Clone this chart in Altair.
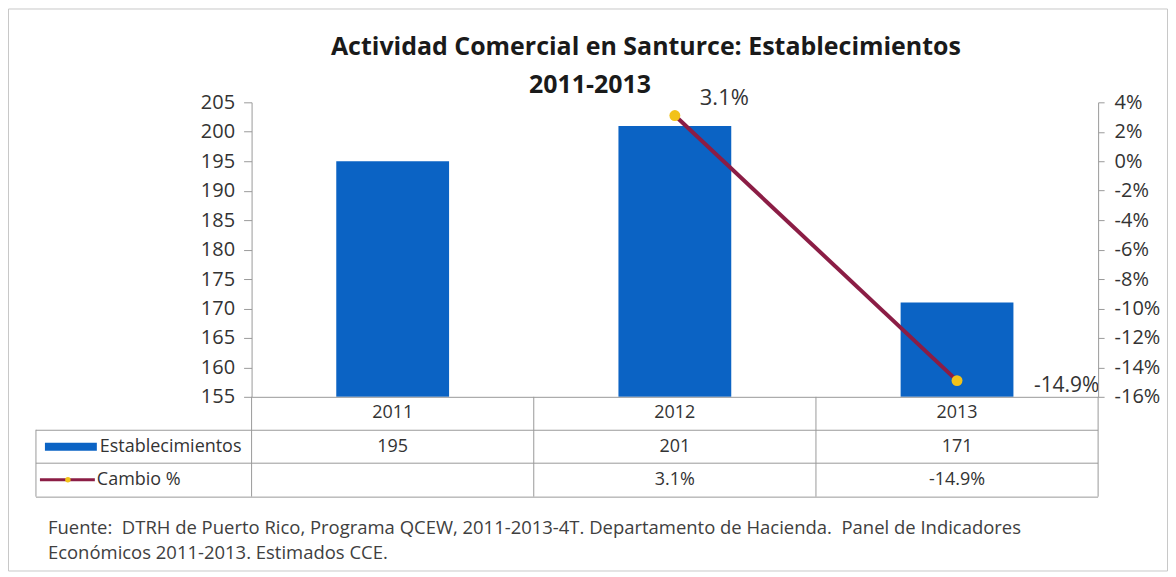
import altair as alt
import pandas as pd

# ---------------- data ----------------
years = ["2011", "2012", "2013"]
establecimientos = [195, 201, 171]
cambio = [None, 0.031, -0.149]
left_ticks = [155, 160, 165, 170, 175, 180, 185, 190, 195, 200, 205]
right_ticks = [-0.16, -0.14, -0.12, -0.10, -0.08, -0.06, -0.04, -0.02, 0.0, 0.02, 0.04]
title_lines = ["Actividad Comercial en Santurce: Establecimientos", "2011-2013"]
row_labels = ["Establecimientos", "Cambio %"]
fuente_lines = [
    "Fuente:\u00a0 DTRH de Puerto Rico, Programa QCEW, 2011-2013-4T. Departamento de Hacienda.\u00a0 Panel de Indicadores",
    "Económicos 2011-2013. Estimados CCE.",
]

df = pd.DataFrame({"year": years, "est": establecimientos, "chg": cambio})
df["est_txt"] = [str(v) for v in establecimientos]
df["chg_txt"] = ["" if v is None else f"{v * 100:.1f}%" for v in cambio]
one = pd.DataFrame({"k": [0]})

FONT = "Open Sans"
BLUE = "#0B63C4"
RED = "#8B1D45"
GOLD = "#F2C219"
GRID = "#9A9A9A"
TXT = "#333333"

W, H = 848, 295

x = alt.X(
    "year:N",
    title=None,
    scale=alt.Scale(paddingInner=0, paddingOuter=0),
    axis=alt.Axis(labels=False, ticks=False, domainColor=GRID, title=None, zindex=1),
)

y_left = alt.Y(
    "est:Q",
    title=None,
    scale=alt.Scale(domain=[155, 205], nice=False, zero=False),
    axis=alt.Axis(
        orient="left", values=left_ticks, grid=False, labelFont=FONT,
        labelFontSize=20, labelColor=TXT, tickColor=GRID, tickSize=8,
        domainColor=GRID, labelPadding=9, title=None, zindex=1,
    ),
)

y_right = alt.Y(
    "chg:Q",
    title=None,
    scale=alt.Scale(domain=[-0.16, 0.04], nice=False, zero=False),
    axis=alt.Axis(
        orient="right", values=right_ticks, grid=False, labelFont=FONT,
        labelFontSize=20, labelColor=TXT, tickColor=GRID, tickSize=6,
        domainColor=GRID, labelPadding=10, title=None, zindex=1,
        labelExpr="round(datum.value * 100) + '%'",
    ),
)

border = alt.Chart(one).mark_rect(filled=False, stroke="#C8C8C8", strokeWidth=1).encode(
    x=alt.value(-243.5), x2=alt.value(W + 69.5), y=alt.value(-93.5), y2=alt.value(H + 174.5)
)

bars = alt.Chart(df).mark_bar(size=113, color=BLUE).encode(
    x=x, y=y_left, y2=alt.Y2(datum=left_ticks[0])
)

line = alt.Chart(df).mark_line(color=RED, strokeWidth=4).encode(x=x, y=y_right)
points = alt.Chart(df).mark_point(filled=True, size=120, color=GOLD, opacity=1).encode(x=x, y=y_right)
lbl_a = alt.Chart(df).transform_filter("datum.year == '2012'").mark_text(
    align="left", dx=25, dy=-18, fontSize=22, font=FONT, color=TXT
).encode(x=x, y=y_right, text="chg_txt:N")
lbl_b = alt.Chart(df).transform_filter("datum.year == '2013'").mark_text(
    align="left", dx=77, dy=5, fontSize=21, font=FONT, color=TXT
).encode(x=x, y=y_right, text="chg_txt:N")
right_layer = alt.layer(line, points, lbl_a, lbl_b)

# ---------------- data table ----------------
def hrule(yv):
    return alt.Chart(one).mark_rule(color=GRID, strokeWidth=1).encode(
        x=alt.value(-216), x2=alt.value(W), y=alt.value(yv)
    )

col_rules = alt.Chart(df).mark_rule(color=GRID, strokeWidth=1).encode(
    x=alt.X("year:N", bandPosition=0), y=alt.value(H), y2=alt.value(395)
)
end_rule = alt.Chart(df).transform_filter("datum.year == '2013'").mark_rule(color=GRID, strokeWidth=1).encode(
    x=alt.X("year:N", bandPosition=1), y=alt.value(H), y2=alt.value(395)
)
left_rule = alt.Chart(one).mark_rule(color=GRID, strokeWidth=1).encode(
    x=alt.value(-216), y=alt.value(328), y2=alt.value(395)
)

TS = 18
hdr = alt.Chart(df).mark_text(fontSize=TS, font=FONT, color=TXT).encode(
    x=x, y=alt.value(311), text="year:N"
)
row1 = alt.Chart(df).mark_text(fontSize=TS, font=FONT, color=TXT).encode(
    x=x, y=alt.value(345), text="est_txt:N"
)
row2 = alt.Chart(df).mark_text(fontSize=TS, font=FONT, color=TXT).encode(
    x=x, y=alt.value(378), text="chg_txt:N"
)

sw_bar = alt.Chart(one).mark_rect(color=BLUE).encode(
    x=alt.value(-207), x2=alt.value(-155), y=alt.value(341), y2=alt.value(349)
)
sw_line = alt.Chart(one).mark_rule(color=RED, strokeWidth=3).encode(
    x=alt.value(-212), x2=alt.value(-157), y=alt.value(378)
)
sw_pt = alt.Chart(one).mark_point(filled=True, size=30, color=GOLD, opacity=1).encode(
    x=alt.value(-184), y=alt.value(378)
)
lab1 = alt.Chart(one).mark_text(align="left", fontSize=TS, font=FONT, color=TXT).encode(
    x=alt.value(-152), y=alt.value(345), text=alt.value(row_labels[0])
)
lab2 = alt.Chart(one).mark_text(align="left", fontSize=TS, font=FONT, color=TXT).encode(
    x=alt.value(-155), y=alt.value(378), text=alt.value(row_labels[1])
)

# ---------------- title & source ----------------
t1 = alt.Chart(one).mark_text(fontSize=25, font=FONT, fontWeight="bold", color="#1A1A1A").encode(
    x=alt.value(395), y=alt.value(-55), text=alt.value(title_lines[0])
)
t2 = alt.Chart(one).mark_text(fontSize=25, font=FONT, fontWeight="bold", color="#1A1A1A").encode(
    x=alt.value(339), y=alt.value(-17), text=alt.value(title_lines[1])
)
f1 = alt.Chart(one).mark_text(align="left", fontSize=18.5, font=FONT, color="#404040").encode(
    x=alt.value(-204), y=alt.value(426), text=alt.value(fuente_lines[0])
)
f2 = alt.Chart(one).mark_text(align="left", fontSize=18.5, font=FONT, color="#404040").encode(
    x=alt.value(-204), y=alt.value(451), text=alt.value(fuente_lines[1])
)

chart = alt.layer(
    border, bars, right_layer,
    hrule(328.5), hrule(361.5), hrule(395.5), col_rules, end_rule, left_rule,
    hdr, row1, row2, sw_bar, sw_line, sw_pt, lab1, lab2,
    t1, t2, f1, f2,
).resolve_scale(y="independent").properties(
    width=W, height=H,
    autosize=alt.AutoSizeParams(type="none"),
    padding={"left": 244, "top": 94, "right": 70, "bottom": 175},
    background="white",
).configure_view(strokeWidth=0)

chart.save("out.html", embed_options={"renderer": "svg", "actions": False})
